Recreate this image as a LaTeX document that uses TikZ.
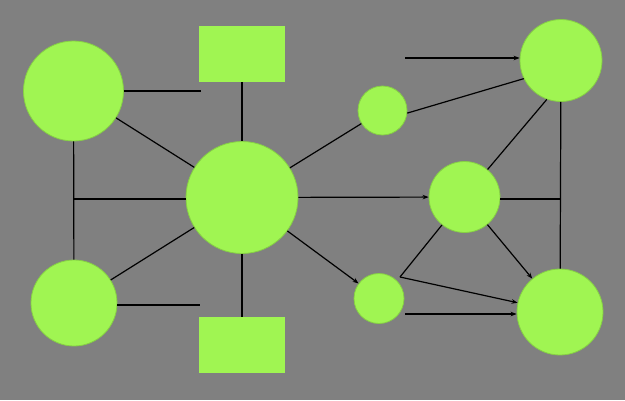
\documentclass[tikz,border=0pt]{standalone}
\usetikzlibrary{arrows.meta}
\definecolor{bggray}{HTML}{808080}
\definecolor{nodegreen}{HTML}{A0F552}
\definecolor{edgegreen}{HTML}{86D044}
\begin{document}
\begin{tikzpicture}[x=1pt,y=-1pt,
  ball/.style={circle,fill=nodegreen,draw=edgegreen,line width=0.8pt,inner sep=0pt},
  box/.style={rectangle,fill=nodegreen,draw=none,inner sep=0pt,minimum width=86pt,minimum height=56pt},
  link/.style={draw=black,line width=1.2pt},
  arr/.style={link,-{Stealth[length=6pt,width=4.5pt]}}]
\useasboundingbox (0,0) rectangle (625,400);
\fill[bggray] (0,0) rectangle (625,400);
% nodes
\node[ball,minimum size=100pt] (A) at (73.5,91) {};
\node[ball,minimum size=86pt] (B) at (74,303) {};
\node[ball,minimum size=112pt] (C) at (242,197.5) {};
\node[box] (R1) at (242,54) {};
\node[box] (R2) at (242,345) {};
\node[ball,minimum size=49pt] (S1) at (382.5,110.5) {};
\node[ball,minimum size=50pt] (S2) at (379,298.5) {};
\node[ball,minimum size=82pt] (D) at (561,60.5) {};
\node[ball,minimum size=71pt] (M) at (464.5,197) {};
\node[ball,minimum size=86pt] (E) at (560,312) {};
% free ends
\coordinate (a1) at (201,91);
\coordinate (b1) at (200,305);
\coordinate (j1) at (73.5,199);
\coordinate (f1) at (405,58);
\coordinate (j2) at (400,277);
\coordinate (s2e) at (405,314);
% connectors
\begin{scope}[on background layer/.style={}]
\draw[link] (A) -- (a1);
\draw[link] (A) -- (C);
\draw[link] (A) -- (B);
\draw[link] (j1) -- (j1 -| C.west);
\draw[link] (B) -- (C);
\draw[link] (B.east |- b1) -- (b1);
\draw[link] (R1) -- (C);
\draw[link] (C) -- (R2);
\draw[link] (C) -- (S1);
\draw[link] (S1.-6) -- (D.206);
\draw[arr] (f1) -- (f1 -| D.west);
\draw[link] (D.250) -- (M.50);
\draw[link] (D) -- (E);
\draw[link] (M.east |- 0,199) -- (D.south |- 0,199);
\draw[arr] (C) -- (M);
\draw[arr] (C) -- (S2);
\draw[arr] (M) -- (E);
\draw[link] (M) -- (j2);
\draw[arr] (j2) -- (E);
\draw[arr] (s2e) -- (s2e -| E.west);
\end{scope}
\end{tikzpicture}
\end{document}
